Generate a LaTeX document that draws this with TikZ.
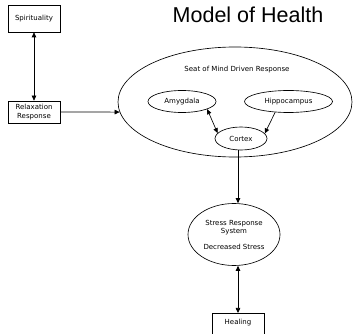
\documentclass[tikz,border=0pt]{standalone}
\usepackage{fontspec}
\setmainfont{DejaVu Sans}
\newfontfamily\titlefont{Liberation Sans}
\usetikzlibrary{shapes.geometric,arrows.meta}

\tikzset{
  >={Triangle[length=5pt,width=4.5pt]},
  every path/.style={line width=0.65pt},
  labelbox/.style={draw, minimum width=52pt, inner sep=2pt, align=center,
    font=\fontsize{7}{9.5}\selectfont},
  oval/.style={draw, ellipse, inner sep=0pt, align=center,
    font=\fontsize{7}{8.5}\selectfont}
}

\begin{document}
\begin{tikzpicture}[x=1pt, y=-1pt]
%	\draw [help lines] (0,0) grid[step=20] (354,334);  % help lines
	\useasboundingbox (0,0) rectangle (354,334);

	% title
	\node (title) at (248,15) {\titlefont\fontsize{21.5}{24}\selectfont Model of Health};

	% boxes
	\node [labelbox, minimum height=27pt] (spirit) at (34,18.5) {Spirituality};
	\node [labelbox, minimum height=22pt] (relax) at (34,112) {Relaxation\\Response};
	\node [labelbox, anchor=north, text height=8pt, text depth=16pt, inner ysep=3pt] (heal) at (238,313) {Healing};

	% ellipses
	\node [oval, minimum width=234pt, minimum height=110pt] (seat) at (235,102) {};
	\node [font=\fontsize{7}{8.5}\selectfont] (seattext) at (237,70) {Seat of Mind Driven Response};
	\node [oval, minimum width=68pt, minimum height=22pt] (amyg) at (182,101.5) {Amygdala};
	\node [oval, minimum width=88pt, minimum height=22pt] (hippo) at (288.5,101.5) {Hippocampus};
	\node [oval, minimum width=52pt, minimum height=23pt] (cortex) at (241,138.5) {Cortex};
	\node [oval, minimum width=92pt, minimum height=62pt] (stress) at (234,234.5)
		{Stress Response\\System\\[7pt]Decreased Stress};

	% connectors
	\draw [<->] (spirit.south) -- (relax.north);
	\draw [->] (relax.east) -- (seat.185);
	\draw [<->] (amyg.-17) -- (cortex.167);
	\draw [->] (hippo.-141) -- (cortex.12);
	\draw [->] (cortex.south -| heal.north) -- (stress.north -| heal.north);
	\draw [<->] (stress.south -| heal.north) -- (heal.north);
\end{tikzpicture}
\end{document}
